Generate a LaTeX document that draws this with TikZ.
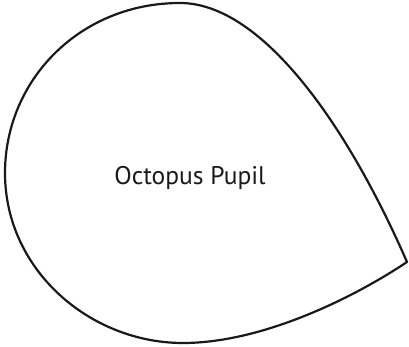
\documentclass[tikz,border=0pt]{standalone}
\usepackage{fontspec}
\setmainfont{PT Sans}
\begin{document}
\begin{tikzpicture}[x=1pt,y=-1pt,
  outline/.style={draw=black!90,line width=2.2pt,line join=round},
  lbl/.style={font=\fontsize{25.5}{30}\selectfont,text=black!90,inner sep=0pt}]
\useasboundingbox (0,0) rectangle (409,347);
\coordinate (tip) at (407,262);
\coordinate (top) at (180,3);
\coordinate (left) at (5,173);
\coordinate (bot) at (183,343);
\draw[outline] (tip) .. controls (345,120) and (260,3) .. (top)
  .. controls (80,3) and (5,80) .. (left)
  .. controls (5,270) and (90,343) .. (bot)
  .. controls (260,343) and (350,300) .. (tip) -- cycle;
\node[lbl] (label) at (190,178) {Octopus Pupil};
\end{tikzpicture}
\end{document}
